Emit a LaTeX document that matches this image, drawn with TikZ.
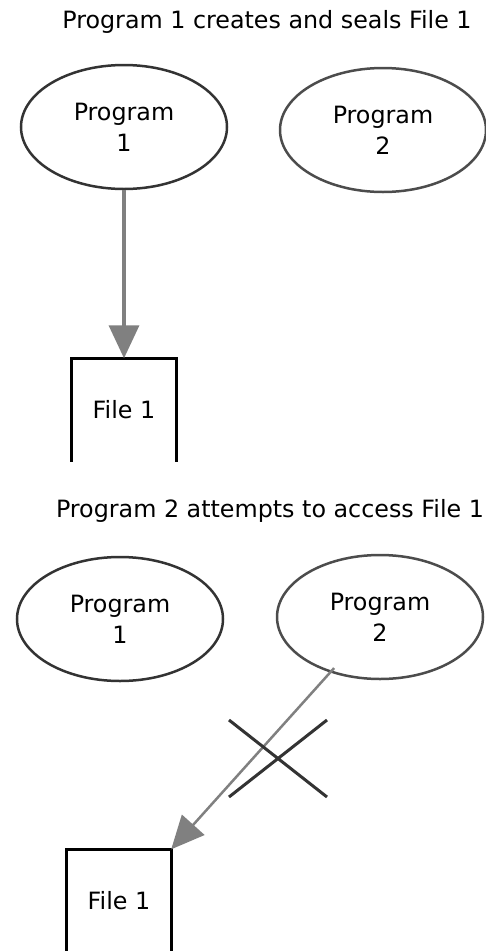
\documentclass[tikz,border=0pt]{standalone}
\usepackage{fontspec}
\setmainfont{DejaVu Sans}
\usetikzlibrary{positioning,arrows.meta,shapes.geometric}

\begin{document}
\begin{tikzpicture}[
  x=1pt, y=-1pt,
  font=\fontsize{23.8}{31}\selectfont,
  prog/.style={draw=black!80, line width=2.5pt, ellipse, minimum width=206pt, minimum height=124pt, inner sep=0pt, align=center},
  file/.style={minimum width=104pt, minimum height=103pt, inner sep=0pt},
  side/.style={draw=black, line width=3pt},
  link/.style={draw=black!50, -{Triangle[length=33pt,width=30pt]}},
]
  \useasboundingbox (0,0) rectangle (486,951);

  % first step
  \node (title1) at (267,22) {Program 1 creates and seals File 1};
  \node[prog] (prog1a) at (124,127) {Program\\ 1};
  \node[prog, draw=black!70] (prog2a) at (383,130) {Program\\ 2};
  \node[file] (file1a) at (124,410) {File 1};
  \draw[side] (file1a.south west) -- (file1a.north west) -- (file1a.north east) -- (file1a.south east);
  \draw[link, line width=3.5pt] (prog1a) -- (file1a);

  % second step
  \node (title2) at (270,511) {Program 2 attempts to access File 1};
  \node[prog] (prog1b) at (120,619) {Program\\ 1};
  \node[prog, draw=black!70] (prog2b) at (380,617) {Program\\ 2};
  \node[file] (file1b) at (119,901) {File 1};
  \draw[side] (file1b.south west) -- (file1b.north west) -- (file1b.north east) -- (file1b.south east);
  \draw[link, line width=2.5pt, shorten <=-6pt] (prog2b) -- (file1b.north east);

  % blocked access
  \coordinate (block) at (278,758);
  \draw[black!80, line width=3pt] ([shift={(-49,-38)}]block) -- ([shift={(49,39)}]block)
    ([shift={(49,-38)}]block) -- ([shift={(-49,39)}]block);
\end{tikzpicture}
\end{document}
